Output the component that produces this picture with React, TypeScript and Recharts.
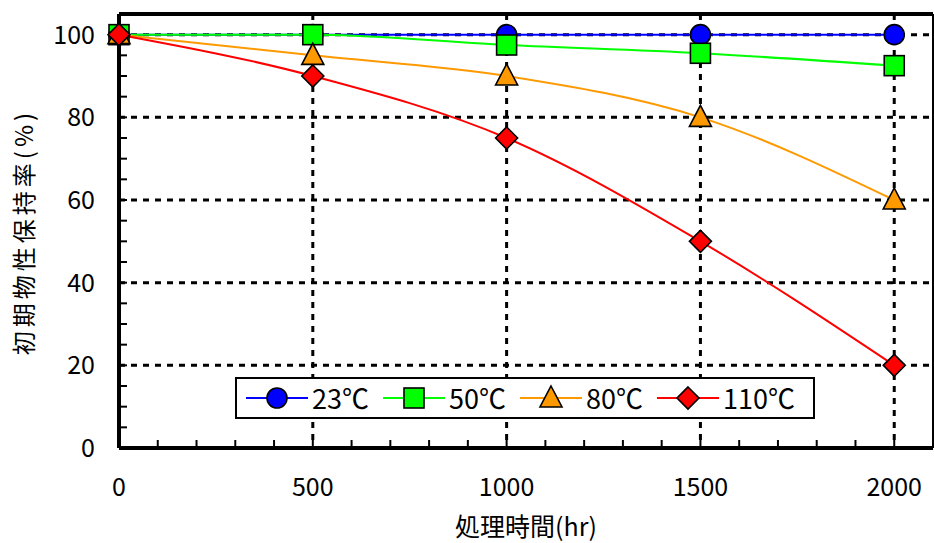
import React from "react";
import {
  LineChart,
  Line,
  XAxis,
  YAxis,
  CartesianGrid,
  ReferenceLine,
  Legend,
} from "recharts";

const hours = [0, 500, 1000, 1500, 2000];
const temp23 = [100, 100, 100, 100, 100];
const temp50 = [100, 100, 97.5, 95.5, 92.5];
const temp80 = [100, 95, 90, 80, 60];
const temp110 = [100, 90, 75, 50, 20];

const xTicks = [0, 100, 200, 300, 400, 500, 600, 700, 800, 900, 1000, 1100, 1200, 1300, 1400, 1500, 1600, 1700, 1800, 1900, 2000];
const yTicks = [0, 5, 10, 15, 20, 25, 30, 35, 40, 45, 50, 55, 60, 65, 70, 75, 80, 85, 90, 95, 100];
const xGrid = [500, 1000, 1500, 2000];
const yGrid = [20, 40, 60, 80, 100];

const data = hours.map((h, i) => ({
  h,
  t23: temp23[i],
  t50: temp50[i],
  t80: temp80[i],
  t110: temp110[i],
}));

const FONT = '"Noto Sans CJK JP", "Noto Sans", sans-serif';

const series = [
  { key: "t23", name: "23℃", color: "#0000FF", shape: "circle" },
  { key: "t50", name: "50℃", color: "#00FF00", shape: "square" },
  { key: "t80", name: "80℃", color: "#FF9900", shape: "triangle" },
  { key: "t110", name: "110℃", color: "#FF0000", shape: "diamond" },
];

function Marker({ cx, cy, shape, fill }: any) {
  const s = { fill, stroke: "#000", strokeWidth: 1.6 };
  if (shape === "circle") return <circle cx={cx} cy={cy} r={10} {...s} />;
  if (shape === "square") return <rect x={cx - 10} y={cy - 10} width={20} height={20} {...s} />;
  if (shape === "triangle")
    return <polygon points={`${cx},${cy - 12} ${cx + 11},${cy + 9} ${cx - 11},${cy + 9}`} {...s} />;
  return <polygon points={`${cx},${cy - 11} ${cx + 11},${cy} ${cx},${cy + 11} ${cx - 11},${cy}`} {...s} />;
}

const makeDot = (shape: string, fill: string) => (p: any) => (
  <Marker key={`${shape}-${p.index}`} cx={p.cx} cy={p.cy} shape={shape} fill={fill} />
);

function YTick({ x, y, payload }: any) {
  if (payload.value % 20 !== 0) return <g />;
  return (
    <text x={x} y={y} dy="0.36em" textAnchor="end" fontSize={25} fontFamily={FONT} fill="#000">
      {payload.value}
    </text>
  );
}

function XTick({ x, y, payload }: any) {
  if (payload.value % 500 !== 0) return <g />;
  return (
    <text x={x} y={y} dy="0.71em" textAnchor="middle" fontSize={25} fontFamily={FONT} fill="#000">
      {payload.value}
    </text>
  );
}

function LegendBox() {
  return (
    <div
      style={{
        boxSizing: "border-box",
        width: 580,
        height: 42,
        border: "2px solid #000",
        background: "#fff",
        display: "flex",
        alignItems: "center",
        paddingLeft: 9,
        fontFamily: FONT,
        fontSize: 27,
        color: "#000",
      }}
    >
      {series.map((s) => (
        <div key={s.key} style={{ display: "flex", alignItems: "center", marginRight: 14 }}>
          <svg width={62} height={30}>
            <line x1={0} y1={15} x2={62} y2={15} stroke={s.color} strokeWidth={2} />
            <Marker cx={31} cy={15} shape={s.shape} fill={s.color} />
          </svg>
          <span style={{ marginLeft: 4, lineHeight: "30px" }}>{s.name}</span>
        </div>
      ))}
    </div>
  );
}

export default function App() {
  return (
    <div style={{ position: "absolute", left: 0, top: 0, background: "#fff" }}>
      <LineChart
        width={934}
        height={543}
        data={data}
        margin={{ top: 14, right: 1, bottom: 35, left: 0 }}
      >
        <CartesianGrid
          stroke="#000"
          strokeWidth={3}
          strokeDasharray="6 6"
          horizontalValues={yGrid}
          verticalValues={xGrid}
        />
        <ReferenceLine y={105} stroke="#000" strokeWidth={4} />
        <ReferenceLine x={2100} stroke="#000" strokeWidth={2} />
        <XAxis
          dataKey="h"
          type="number"
          domain={[0, 2100]}
          ticks={xTicks}
          interval={0}
          height={60}
          axisLine={{ stroke: "#000", strokeWidth: 4 }}
          tickLine={{ stroke: "#000", strokeWidth: 2 }}
          tickSize={-8}
          tickMargin={38}
          tick={<XTick />}
          label={{
            content: () => (
              <text x={526} y={536} textAnchor="middle" fontSize={25} fontFamily={FONT} fill="#000">
                処理時間(hr)
              </text>
            ),
          }}
        />
        <YAxis
          type="number"
          domain={[0, 105]}
          ticks={yTicks}
          interval={0}
          width={119}
          axisLine={{ stroke: "#000", strokeWidth: 4 }}
          tickLine={{ stroke: "#000", strokeWidth: 2 }}
          tickSize={-8}
          tickMargin={32}
          tick={<YTick />}
          label={{
            content: () => (
              <text
                x={24}
                y={232}
                transform="rotate(-90 24 232)"
                textAnchor="middle"
                dy="0.36em"
                fontSize={24}
                letterSpacing={4}
                fontFamily={FONT}
                fill="#000"
              >
                初期物性保持率(%)
              </text>
            ),
          }}
        />
        {series.map((s) => (
          <Line
            key={s.key}
            dataKey={s.key}
            name={s.name}
            type="monotone"
            stroke={s.color}
            strokeWidth={2}
            dot={makeDot(s.shape, s.color)}
            activeDot={false}
            isAnimationActive={false}
          />
        ))}
        <Legend
          layout="horizontal"
          verticalAlign="middle"
          align="center"
          wrapperStyle={{ left: 235, top: 377, width: 580, height: 42 }}
          content={() => <LegendBox />}
        />
      </LineChart>
    </div>
  );
}
